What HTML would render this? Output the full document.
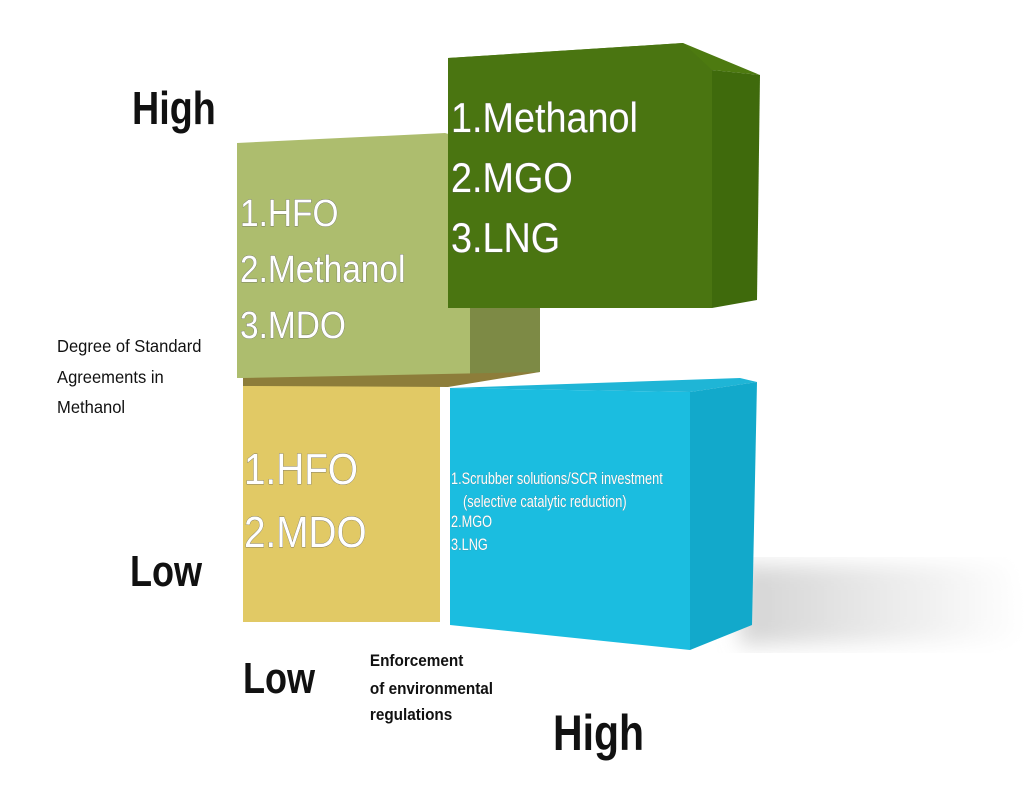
<!DOCTYPE html>
<html><head><meta charset="utf-8"><style>
body{margin:0;background:#fff;}
svg{display:block}
text{font-family:"Liberation Sans",sans-serif;}
.w{fill:#fff;stroke:#666;stroke-width:0.7;paint-order:stroke;}
</style></head><body>
<svg width="1024" height="795" viewBox="0 0 1024 795">
<defs>
<linearGradient id="sh" x1="0" x2="1"><stop offset="0" stop-color="#d4d4d4"/><stop offset="1" stop-color="#fff"/></linearGradient>
<filter id="b"><feGaussianBlur stdDeviation="10"/></filter>
</defs>
<polygon points="740,565 1010,565 1024,640 740,645" fill="url(#sh)" filter="url(#b)"/>
<!-- light green cube -->
<polygon points="470,300 540,300 540,372 470,378" fill="#7d8a45"/>
<polygon points="237,143 445,133 470,140 470,378 237,378" fill="#adbd6e"/>
<!-- dark green cube -->
<polygon points="448,58 683,43 760,75 712,70" fill="#4d7a10"/>
<polygon points="712,70 760,75 757,300 712,308" fill="#3f6a0c"/>
<polygon points="448,58 683,43 712,70 712,308 448,308" fill="#4a7511"/>
<!-- yellow cube -->
<polygon points="243,385 440,385 440,622 243,622" fill="#e1c965"/>
<polygon points="243,378 540,372 448,387 243,386" fill="#8d7d3a"/>
<!-- cyan cube -->
<polygon points="450,388 740,378 757,382 690,392" fill="#1fb5d6"/>
<polygon points="690,392 757,382 752,625 690,650" fill="#12a9cb"/>
<polygon points="450,388 690,392 690,650 450,625" fill="#1bbde0"/>
<!-- labels -->
<g fill="#111" font-weight="bold">
<text transform="translate(132,124) scale(0.82,1)" font-size="46">High</text>
<text transform="translate(130,586) scale(0.82,1)" font-size="44">Low</text>
<text transform="translate(243,693) scale(0.82,1)" font-size="44">Low</text>
<text transform="translate(553,750) scale(0.82,1)" font-size="50">High</text>
</g>
<text font-size="18" fill="#111" transform="scale(0.92,1)"><tspan x="62" y="352">Degree of Standard</tspan><tspan x="62" y="383">Agreements in</tspan><tspan x="62" y="413">Methanol</tspan></text>
<text font-size="17" fill="#111" font-weight="bold" transform="scale(0.9,1)"><tspan x="411" y="666">Enforcement</tspan><tspan x="411" y="694">of environmental</tspan><tspan x="411" y="720">regulations</tspan></text>
<text class="w" font-size="42" transform="translate(451,0) scale(0.9,1)"><tspan x="0" y="132">1.Methanol</tspan><tspan x="0" y="192">2.MGO</tspan><tspan x="0" y="252">3.LNG</tspan></text>
<text class="w" font-size="38" transform="translate(240,0) scale(0.88,1)"><tspan x="0" y="226">1.HFO</tspan><tspan x="0" y="282">2.Methanol</tspan><tspan x="0" y="338">3.MDO</tspan></text>
<text class="w" font-size="44" transform="translate(244,0) scale(0.88,1)"><tspan x="0" y="484">1.HFO</tspan><tspan x="0" y="547">2.MDO</tspan></text>
<text class="w" font-size="17" style="stroke-width:0.3" transform="translate(451,0) scale(0.75,1)"><tspan x="0" y="484">1.Scrubber solutions/SCR investment</tspan><tspan x="16" y="507">(selective catalytic reduction)</tspan><tspan x="0" y="527">2.MGO</tspan><tspan x="0" y="550">3.LNG</tspan></text>
</svg>
</body></html>
